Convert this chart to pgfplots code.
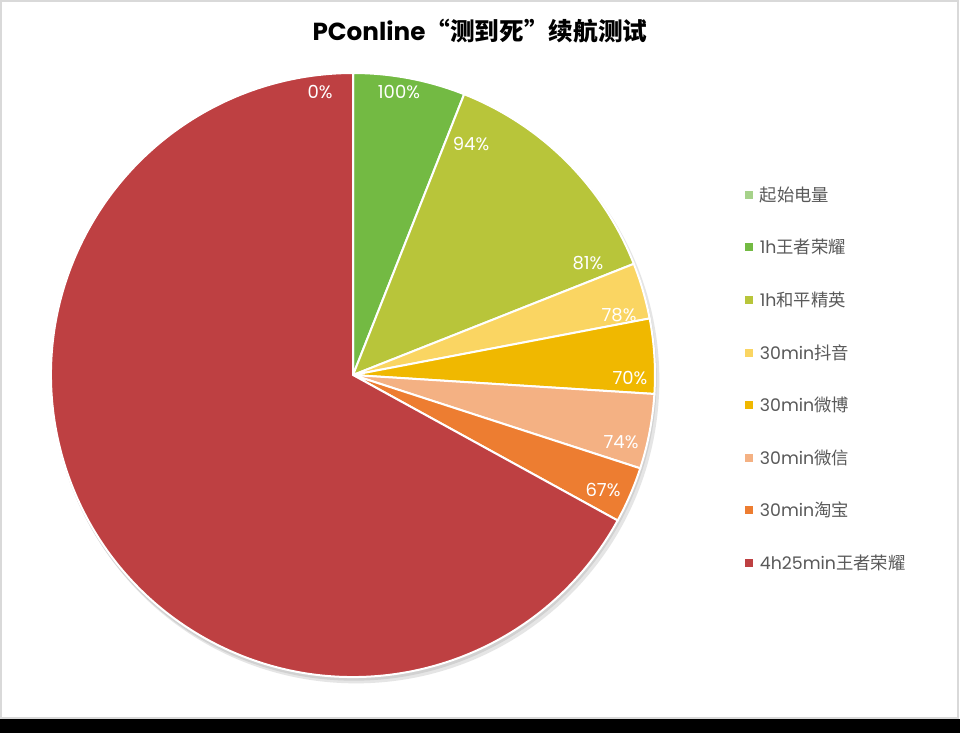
\documentclass[border=0pt]{standalone}
\usepackage{pgfplots}
\pgfplotsset{compat=1.18}
\usepackage{fontspec}
\setmainfont{Poppins}
\newfontfamily\cjk{Noto Sans CJK SC}

\definecolor{cStart}{HTML}{A6D28A}
\definecolor{cWzry}{HTML}{73BA43}
\definecolor{cHpjy}{HTML}{B8C53A}
\definecolor{cDouyin}{HTML}{FAD562}
\definecolor{cWeibo}{HTML}{F0B800}
\definecolor{cWeixin}{HTML}{F4B183}
\definecolor{cTaobao}{HTML}{ED7D31}
\definecolor{cLong}{HTML}{BE4042}
\definecolor{legtext}{HTML}{595959}

% one slice: colour, cumulative share at start and end (percent)
\newcommand{\slice}[3]{%
  \fill[#1, draw=white, line width=1.5pt] (axis cs:353,375)
    -- ++({90-3.6*#2}:226.5pt)
    arc[start angle={90-3.6*#2}, end angle={90-3.6*#3}, radius=226.5pt]
    -- cycle;}

\begin{document}
\begin{tikzpicture}
\begin{axis}[
  width=720pt, height=549.75pt, scale only axis,
  xmin=0, xmax=960, ymin=0, ymax=733, y dir=reverse,
  hide axis, clip=false,
  legend style={at={(axis cs:741,181)}, anchor=north west, draw=none, fill=none,
    font=\fontsize{13}{15}\selectfont\color{legtext}, row sep=23pt,
    legend cell align=left,
    nodes={inner xsep=5pt}},
  legend image code/.code={\fill[#1, draw=none] (0pt,-3pt) rectangle (6pt,3pt);},
]
% frame
\fill[white] (axis cs:0,0) rectangle (axis cs:960,733);
\draw[black!15, line width=1pt] (axis cs:1,1) rectangle (axis cs:958,718);
\fill[black] (axis cs:0,719) rectangle (axis cs:960,733);

% soft shadow under the pie
\fill[black!10] (axis cs:356,380) circle[radius=227.5pt];
\fill[black!18] (axis cs:354,378) circle[radius=227pt];

% battery drop per phase: 0, 6, 13, 3, 4, 4, 3, 67 (%)
\slice{cWzry}{0}{6}
\slice{cHpjy}{6}{19}
\slice{cDouyin}{19}{22}
\slice{cWeibo}{22}{26}
\slice{cWeixin}{26}{30}
\slice{cTaobao}{30}{33}
\slice{cLong}{33}{100}

\begin{scope}[every node/.style={white, font=\fontsize{13.5}{15}\selectfont}]
\node at (axis cs:320,92) {0\%};
\node at (axis cs:399,92) {100\%};
\node at (axis cs:471,144) {94\%};
\node at (axis cs:588,263) {81\%};
\node at (axis cs:619,315) {78\%};
\node at (axis cs:630,378) {70\%};
\node at (axis cs:621,442) {74\%};
\node at (axis cs:603,490) {67\%};
\end{scope}

\node[font=\fontsize{18.5}{22}\selectfont\bfseries] at (axis cs:480,31)
  {PConline{\cjk\bfseries “测到死”续航测试}};

\addlegendimage{fill=cStart}
\addlegendentry{{\cjk 起始电量}}
\addlegendimage{fill=cWzry}
\addlegendentry{1h{\cjk 王者荣耀}}
\addlegendimage{fill=cHpjy}
\addlegendentry{1h{\cjk 和平精英}}
\addlegendimage{fill=cDouyin}
\addlegendentry{30min{\cjk 抖音}}
\addlegendimage{fill=cWeibo}
\addlegendentry{30min{\cjk 微博}}
\addlegendimage{fill=cWeixin}
\addlegendentry{30min{\cjk 微信}}
\addlegendimage{fill=cTaobao}
\addlegendentry{30min{\cjk 淘宝}}
\addlegendimage{fill=cLong}
\addlegendentry{4h25min{\cjk 王者荣耀}}
\end{axis}
\end{tikzpicture}
\end{document}
